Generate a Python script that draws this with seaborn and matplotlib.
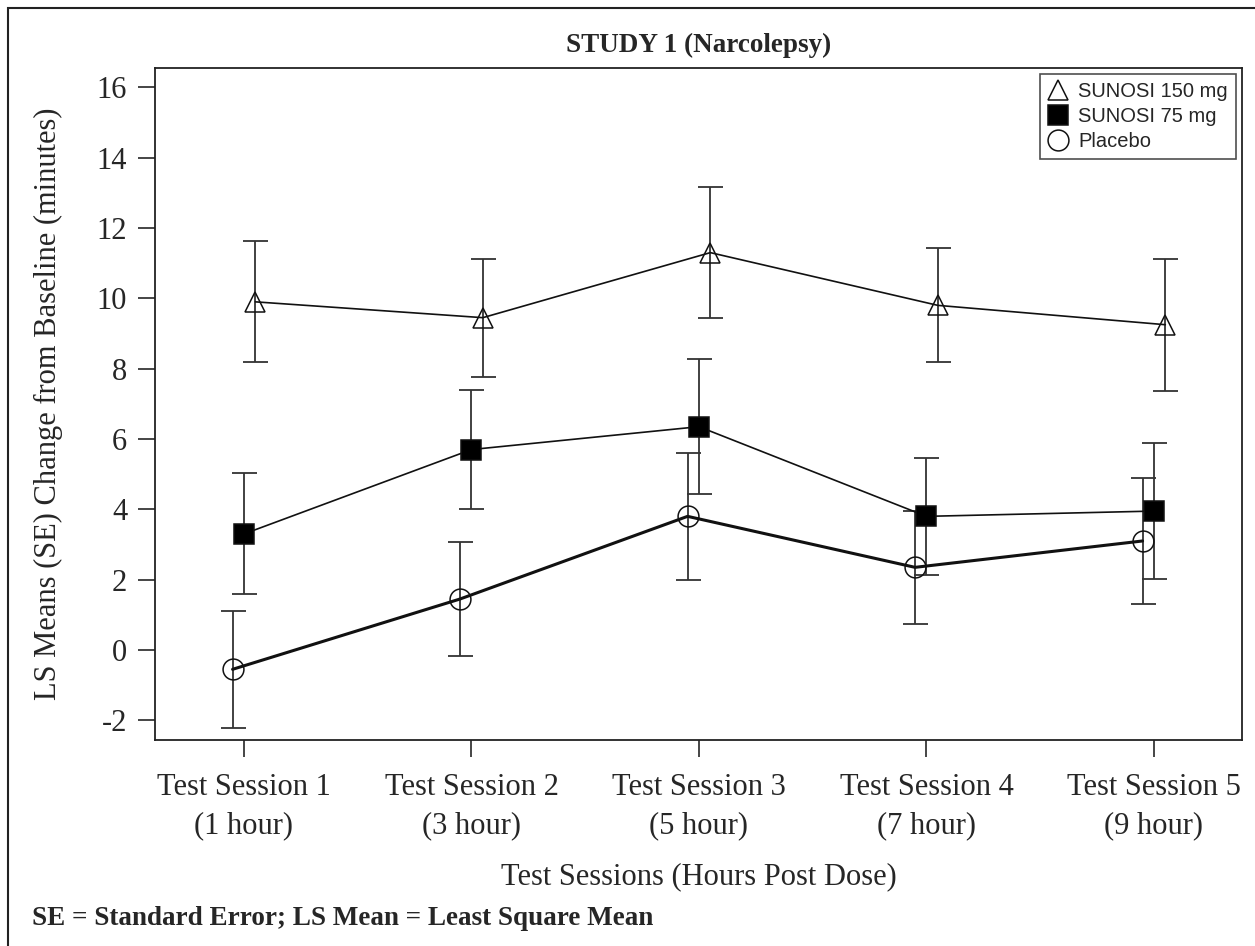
import numpy as np
import pandas as pd
import matplotlib
matplotlib.use("Agg")
import matplotlib.pyplot as plt
import seaborn as sns
from matplotlib.patches import Rectangle

# Dados
sessoes = ["Test Session 1\n(1 hour)", "Test Session 2\n(3 hour)", "Test Session 3\n(5 hour)",
           "Test Session 4\n(7 hour)", "Test Session 5\n(9 hour)"]
grupos = ["SUNOSI 150 mg", "SUNOSI 75 mg", "Placebo"]
media_150 = [9.9, 9.45, 11.3, 9.8, 9.25]
se_150 = [1.72, 1.68, 1.87, 1.62, 1.88]
media_75 = [3.3, 5.7, 6.35, 3.8, 3.95]
se_75 = [1.72, 1.70, 1.92, 1.67, 1.93]
media_pla = [-0.55, 1.45, 3.8, 2.35, 3.1]
se_pla = [1.66, 1.62, 1.80, 1.60, 1.80]

sns.set_style("white")
plt.rcParams["font.family"] = ["Liberation Serif", "DejaVu Serif"]
plt.rcParams["axes.unicode_minus"] = False

fig = plt.figure(figsize=(12.55, 9.46), dpi=100)
ax = fig.add_axes([155 / 1255, 1 - 740 / 946, (1242 - 155) / 1255, (740 - 68) / 946])

# borda externa da figura
fig.patches.append(Rectangle((8 / 1255, -0.1), 1.2, 1 - 8 / 946 + 0.1, transform=fig.transFigure,
                             fill=False, edgecolor="#222222", linewidth=1.5, zorder=-1))

x = np.arange(len(sessoes))
series = [
    (grupos[0], media_150, se_150, 0.05, "^", "none", 1.2),
    (grupos[1], media_75, se_75, 0.0, "s", "black", 1.2),
    (grupos[2], media_pla, se_pla, -0.05, "o", "none", 2.2),
]

for nome, media, se, desloc, marcador, cor_face, lw in series:
    xs = x + desloc
    ax.errorbar(xs, media, yerr=se, fmt="none", ecolor="#333333", elinewidth=1.3,
                capsize=9, capthick=1.3, zorder=2)
    df = pd.DataFrame({"x": xs, "y": media})
    sns.lineplot(data=df, x="x", y="y", ax=ax, color="#111111", linewidth=lw,
                 marker=marcador, markersize=15, markerfacecolor=cor_face,
                 markeredgecolor="#111111", markeredgewidth=1.1, label=nome, zorder=3)

ax.set_xlim(-0.391, 4.387)
ax.set_ylim(-2.56, 16.55)
ax.set_xticks(x)
ax.set_xticklabels(sessoes, fontsize=22, linespacing=1.4)
ax.set_yticks(np.arange(-2, 17, 2))
ax.tick_params(axis="y", labelsize=22, length=12, width=1.2, left=True, pad=8)
ax.tick_params(axis="x", length=12, width=1.2, bottom=True, pad=12)
ax.set_xlabel("Test Sessions (Hours Post Dose)", fontsize=22, labelpad=16)
ax.set_ylabel("LS Means (SE) Change from Baseline (minutes)", fontsize=22, labelpad=24)
for s in ax.spines.values():
    s.set_color("#222222")
    s.set_linewidth(1.3)

fig.text((155 + 1242) / 2 / 1255, 1 - 45 / 946, "STUDY 1 (Narcolepsy)", ha="center", va="center",
         fontsize=19.5, fontweight="bold")
fig.text(32 / 1255, 1 - 918 / 946, "SE = Standard Error; LS Mean = Least Square Mean",
         ha="left", va="center", fontsize=19.5, fontweight="bold")

# legenda
handles, labels = ax.get_legend_handles_labels()
leg = ax.legend(handles, labels, loc="upper right", frameon=True, fancybox=False,
                borderaxespad=0.3, handlelength=1.0, handletextpad=0.5, labelspacing=0.3,
                prop={"family": "Liberation Sans", "size": 14.5})
for h in leg.legend_handles:
    h.set_linestyle("none")
leg.get_frame().set_edgecolor("#222222")
leg.get_frame().set_linewidth(1.2)

fig.savefig("out.png", dpi=100)
